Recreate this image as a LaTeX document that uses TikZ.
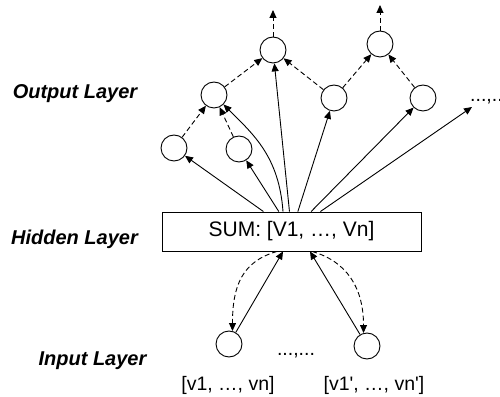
\documentclass[tikz,border=0pt]{standalone}
\usepackage{fontspec}
\setmainfont{Liberation Sans}
\usetikzlibrary{arrows.meta}
\begin{document}
\begin{tikzpicture}[x=1pt,y=1pt,
  neuron/.style={circle,draw,line width=0.9pt,minimum size=26pt,inner sep=0pt},
  arr/.style={-{Triangle[length=8pt,width=7pt]},line width=0.9pt},
  darr/.style={arr,dash pattern=on 5pt off 3pt},
  layerlabel/.style={font=\fontsize{20}{24}\selectfont\bfseries\itshape,anchor=base,inner sep=0pt},
  vlabel/.style={font=\fontsize{19.5}{23}\selectfont,anchor=base,inner sep=0pt},
  sumbox/.style={draw,line width=0.9pt,minimum width=259pt,minimum height=39pt,inner sep=0pt,font=\fontsize{21}{25}\selectfont}]
\useasboundingbox (0,0) rectangle (500,396);
% layer labels
\node[layerlabel] (lout) at (75,297) {Output Layer};
\node[layerlabel] (lhid) at (74.5,151) {Hidden Layer};
\node[layerlabel] (lin) at (92.5,31) {Input Layer};
% output neurons
\node[neuron] (A) at (273,346) {};
\node[neuron] (B) at (380,352) {};
\node[neuron] (C) at (214,301) {};
\node[neuron] (D) at (334,298) {};
\node[neuron] (E) at (423,298) {};
\node[neuron] (F) at (174,248) {};
\node[neuron] (G) at (239,247) {};
\coordinate (Aup) at (273,386);
\coordinate (Bup) at (380,391);
\node[vlabel,anchor=base west] (dots) at (470,294) {...,...};
\coordinate (dotsend) at (472,289);
% hidden
\node[sumbox] (box) at (291.5,164.5) {SUM: [V1, …, Vn]};
% input
\node[neuron] (IL) at (229,52) {};
\node[neuron] (IR) at (367,50) {};
\node[vlabel] (mid) at (296,41) {...,...};
\node[vlabel] (labL) at (228,6) {[v1, …, vn]};
\node[vlabel] (labR) at (374,6) {[v1\textquotesingle, …, vn\textquotesingle]};
% output connections
\draw[arr] (box) -- (F);
\draw[arr] (box) -- (G);
\draw[arr] (box) -- (A);
\draw[arr] (box) -- (D);
\draw[arr] (box) -- (E);
\draw[arr] (box) -- (dotsend);
\draw[arr] ([xshift=-8.5pt]box.north) .. controls +(-4,55) and +(30,-30) .. (C.-45);
\draw[darr] (F) -- (C);
\draw[darr] (G) -- (C);
\draw[darr] (C) -- (A);
\draw[darr] (D) -- (A);
\draw[darr] (D) -- (B);
\draw[darr] (E) -- (B);
\draw[darr] (A) -- (Aup);
\draw[darr] (B) -- (Bup);
% input connections
\draw[arr] (IL) -- ([xshift=-8.5pt]box.south);
\draw[arr] (IR) -- ([xshift=18.5pt]box.south);
\draw[darr] ([xshift=-14.5pt]box.south) .. controls +(-35,-10) and +(0,45) .. (IL.75);
\draw[darr] ([xshift=20.5pt]box.south) .. controls +(35,-10) and +(0,45) .. (IR.105);
\end{tikzpicture}
\end{document}
